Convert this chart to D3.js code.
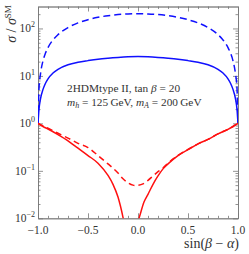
<!DOCTYPE html>
<html><head><meta charset="utf-8">
<script src="https://cdn.jsdelivr.net/npm/d3@7"></script>
<style>body{margin:0;background:#fff}svg{display:block}text{font-family:"Liberation Serif","DejaVu Serif",serif;fill:#333}</style>
</head><body><svg id="c" width="249" height="254"></svg>
<script>
// ---- data ----
const blueS = [-1,-0.99,-0.975,-0.95,-0.925,-0.9,-0.85,-0.8,-0.7,-0.6,-0.5,-0.4,-0.3,-0.2,-0.1,0,0.1,0.2,0.3,0.4,0.5,0.6,0.7,0.8,0.85,0.9,0.925,0.95,0.975,0.99,1];
const blueDashed = [1,5.5,11,20.8,30.3,39.6,57.3,74,104.5,131,153,171.5,185.7,195.8,202,204,202,195.8,185.7,171.5,153,131,104.5,74,57.3,39.6,30.3,20.8,11,5.5,1];
const blueSolid = [1,2.0,3.3,5.2,7.0,8.7,11.5,13.8,17.2,19.4,21.0,22.5,23.6,24.5,25.2,25.5,25.2,24.5,23.6,22.5,21.0,19.4,17.2,13.8,11.5,8.7,7.0,5.2,3.3,2.0,1];
const redSolidS = [-1,-0.95,-0.9,-0.8,-0.7,-0.6,-0.5,-0.4,-0.3,-0.25,-0.2,-0.15,-0.12,-0.08,-0.04,-0.01,0.01,0.06,0.1,0.15,0.2,0.25,0.3,0.4,0.5,0.6,0.7,0.8,0.9,0.95,1];
const redSolid = [1.0,0.86,0.76,0.58,0.43,0.30,0.21,0.145,0.08,0.052,0.028,0.0105,0.005,0.0003,0.003,0.0075,0.0100,0.022,0.032,0.052,0.078,0.11,0.14,0.21,0.28,0.37,0.46,0.6,0.75,0.86,1.0];
const redDashedS = [-1,-0.95,-0.9,-0.8,-0.7,-0.6,-0.5,-0.4,-0.3,-0.2,-0.15,-0.1,-0.05,-0.02,0,0.05,0.1,0.15,0.2,0.25,0.3,0.4,0.5,0.6,0.7,0.8,0.9,0.95,1];
const redDashed = [1.0,0.88,0.79,0.62,0.49,0.38,0.31,0.21,0.14,0.09,0.068,0.056,0.05,0.049,0.0495,0.053,0.063,0.078,0.096,0.115,0.145,0.212,0.282,0.37,0.46,0.6,0.75,0.86,1.0];
const xMajorTicks = [-1.0,-0.5,0.0,0.5,1.0];
const xTickLabels = ["\u22121.0","\u22120.5","0.0","0.5","1.0"];
const yMajorTicks = [0.01,0.1,1,10,100];
const yTickExponents = ["\u22122","\u22121","0","1","2"];

// ---- layout ----
const W=249,H=254, m={l:38,r:11,t:6.5,b:35.7};
const svg=d3.select("#c");
const x=d3.scaleLinear().domain([-1,1]).range([m.l,W-m.r]);
const y=d3.scaleLog().domain([0.01,290]).range([H-m.b,m.t]);

const xMinor=d3.range(-10,11).map(i=>i/10).filter(v=>Math.abs(v*2-Math.round(v*2))>1e-9);
const yMinor=[];
[0.01,0.1,1,10,100].forEach(d=>{for(let k=2;k<=9;k++){const v=d*k; if(v<=290) yMinor.push(v);}});

svg.append("defs").append("clipPath").attr("id","clip").append("rect")
  .attr("x",m.l).attr("y",m.t).attr("width",W-m.l-m.r).attr("height",H-m.t-m.b);

const axCol="#777";
function styleAx(g){g.selectAll("path,line").attr("stroke",axCol).attr("stroke-width",0.8);g.selectAll("text").remove();}
const bottomY=H-m.b, rightX=W-m.r;
svg.append("g").attr("transform",`translate(0,${bottomY})`).call(d3.axisBottom(x).tickValues(xMajorTicks).tickSize(-5).tickSizeOuter(0)).call(styleAx);
svg.append("g").attr("transform",`translate(0,${bottomY})`).call(d3.axisBottom(x).tickValues(xMinor).tickSize(-2.5).tickSizeOuter(0)).call(styleAx);
svg.append("g").attr("transform",`translate(0,${m.t})`).call(d3.axisTop(x).tickValues(xMajorTicks).tickSize(-5).tickSizeOuter(0)).call(styleAx);
svg.append("g").attr("transform",`translate(0,${m.t})`).call(d3.axisTop(x).tickValues(xMinor).tickSize(-2.5).tickSizeOuter(0)).call(styleAx);
svg.append("g").attr("transform",`translate(${m.l},0)`).call(d3.axisLeft(y).tickValues(yMajorTicks).tickSize(-5).tickSizeOuter(0)).call(styleAx);
svg.append("g").attr("transform",`translate(${m.l},0)`).call(d3.axisLeft(y).tickValues(yMinor).tickSize(-2.5).tickSizeOuter(0)).call(styleAx);
svg.append("g").attr("transform",`translate(${rightX},0)`).call(d3.axisRight(y).tickValues(yMajorTicks).tickSize(-5).tickSizeOuter(0)).call(styleAx);
svg.append("g").attr("transform",`translate(${rightX},0)`).call(d3.axisRight(y).tickValues(yMinor).tickSize(-2.5).tickSizeOuter(0)).call(styleAx);

// tick labels
svg.append("g").selectAll("text").data(xMajorTicks).join("text")
  .attr("x",d=>x(d)).attr("y",bottomY+15.5).attr("text-anchor","middle")
  .attr("font-size",11.5).text((d,i)=>xTickLabels[i]);
const yl=svg.append("g").selectAll("text").data(yMajorTicks).join("text")
  .attr("x",m.l-3).attr("y",d=>y(d)+4).attr("text-anchor","end").attr("font-size",11.5);
yl.append("tspan").text("10");
yl.append("tspan").attr("dy",-5).attr("font-size",8).text((d,i)=>yTickExponents[i]);

// curves
const line=(xs)=>d3.line().x((d,i)=>x(xs[i])).y(d=>y(d)).curve(d3.curveMonotoneX);
const plot=svg.append("g").attr("clip-path","url(#clip)");
plot.append("path").attr("d",line(blueS)(blueDashed)).attr("fill","none").attr("stroke","#1010ff").attr("stroke-width",1.5).attr("stroke-dasharray","7,4");
plot.append("path").attr("d",line(blueS)(blueSolid)).attr("fill","none").attr("stroke","#1010ff").attr("stroke-width",1.5);
plot.append("path").attr("d",line(redDashedS)(redDashed)).attr("fill","none").attr("stroke","#ff1010").attr("stroke-width",1.5).attr("stroke-dasharray","6,4");
plot.append("path").attr("d",line(redSolidS)(redSolid)).attr("fill","none").attr("stroke","#ff1010").attr("stroke-width",1.5);

// annotation
const t1=svg.append("text").attr("x",67).attr("y",92).attr("font-size",11.3);
t1.append("tspan").text("2HDMtype II, tan ");
t1.append("tspan").attr("font-style","italic").text("\u03b2");
t1.append("tspan").text(" = 20");
const t2=svg.append("text").attr("x",67).attr("y",106).attr("font-size",11.3);
t2.append("tspan").attr("font-style","italic").text("m");
t2.append("tspan").attr("font-style","italic").attr("font-size",8).attr("dy",2).text("h");
t2.append("tspan").attr("dy",-2).text(" = 125\u2009GeV, ");
t2.append("tspan").attr("font-style","italic").text("m");
t2.append("tspan").attr("font-style","italic").attr("font-size",8).attr("dy",2).text("A");
t2.append("tspan").attr("dy",-2).text(" = 200\u2009GeV");

// axis titles
const xt=svg.append("text").attr("x",239).attr("y",248).attr("text-anchor","end").attr("font-size",14);
xt.append("tspan").text("sin(");
xt.append("tspan").attr("font-style","italic").text("\u03b2");
xt.append("tspan").text(" \u2212 ");
xt.append("tspan").attr("font-style","italic").text("\u03b1");
xt.append("tspan").text(")");
const ytl=svg.append("text").attr("transform","translate(16,24) rotate(-90)").attr("text-anchor","middle").attr("font-size",14);
ytl.append("tspan").attr("font-style","italic").text("\u03c3");
ytl.append("tspan").text(" / ");
ytl.append("tspan").attr("font-style","italic").text("\u03c3");
ytl.append("tspan").attr("dy",-5).attr("font-size",9).text("SM");
</script></body></html>
